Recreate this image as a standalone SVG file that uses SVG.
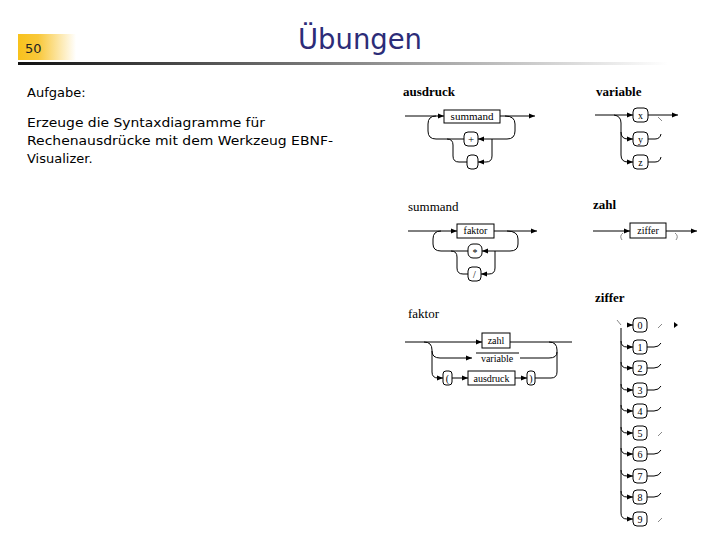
<svg xmlns="http://www.w3.org/2000/svg" width="720" height="540" viewBox="0 0 720 540">
<defs>
<linearGradient id="gy" x1="0" y1="0" x2="1" y2="0">
<stop offset="0" stop-color="#f8c21c"/><stop offset="0.35" stop-color="#f9c83a"/><stop offset="1" stop-color="#ffffff"/>
</linearGradient>
<linearGradient id="gl" x1="0" y1="0" x2="1" y2="0">
<stop offset="0" stop-color="#111"/><stop offset="0.45" stop-color="#777"/><stop offset="1" stop-color="#fff"/>
</linearGradient>
<marker id="ar" markerWidth="6" markerHeight="6" refX="6" refY="3" orient="auto" markerUnits="userSpaceOnUse">
<path d="M0,0.5 L6,3 L0,5.5 z" fill="#000"/>
</marker>
</defs>
<style>
.ln{fill:none;stroke:#000;stroke-width:1}
.a{marker-end:url(#ar)}
.tk{fill:none;stroke:#888;stroke-width:1}
.bx{fill:#fff;stroke:#000;stroke-width:1}
.t{font-family:"Liberation Serif",serif;font-size:11px;fill:#000;text-anchor:middle}
.ts{font-family:"Liberation Serif",serif;font-size:10px;fill:#000;text-anchor:middle}
.lb{font-family:"Liberation Serif",serif;font-size:13px;fill:#000}
.b{font-weight:bold}
.body{font-family:"DejaVu Sans",sans-serif;font-size:13px;fill:#000}
</style>
<rect width="720" height="540" fill="#fff"/>
<g id="header">
<rect x="18" y="34" width="58" height="26" fill="url(#gy)"/>
<text x="25" y="53" font-family="DejaVu Sans,sans-serif" font-size="13" fill="#222">50</text>
<rect x="18" y="62" width="650" height="3" fill="url(#gl)"/>
<text x="360" y="49" text-anchor="middle" font-family="DejaVu Sans,sans-serif" font-size="28" fill="#2c2c78" textLength="124" lengthAdjust="spacingAndGlyphs">Übungen</text>
</g>
<g id="task">
<text class="body" x="27" y="97">Aufgabe:</text>
<text class="body" x="27" y="127" textLength="238" lengthAdjust="spacingAndGlyphs">Erzeuge die Syntaxdiagramme für</text>
<text class="body" x="27" y="145" textLength="306" lengthAdjust="spacingAndGlyphs">Rechenausdrücke mit dem Werkzeug EBNF-</text>
<text class="body" x="27" y="163">Visualizer.</text>
</g>

<g id="ausdruck">
<text class="lb b" x="403" y="96">ausdruck</text>
<g id="ausdruck-connectors">
<path class="ln a" d="M405,116 H444"/>
<path class="ln a" d="M500,116 H535"/>
<path class="ln a" d="M505,116 Q515,116 515,124 V131 Q515,139 507,139 H478"/>
<path class="ln" d="M464,139 H436 Q428,139 428,131 V124 Q428,116 436,116"/>
<path class="ln a" d="M492,139 V156 Q492,162 486,162 H478"/>
<path class="ln" d="M467,162 H459 Q453,162 453,156 V145 Q453,139 447,139"/>
</g>
<g id="ausdruck-summand"><rect class="bx" x="444" y="110" width="56" height="13"/><text class="t" x="472" y="120">summand</text></g>
<g id="ausdruck-plus"><rect class="bx" x="464" y="132" width="14" height="14" rx="4"/><text class="t" x="471" y="143" font-size="13">+</text></g>
<g id="ausdruck-empty"><rect class="bx" x="467" y="155" width="11" height="14" rx="4"/></g>
</g>

<g id="variable">
<text class="lb b" x="596" y="96">variable</text>
<g id="variable-connectors">
<path class="ln a" d="M595,115 H633"/>
<path class="ln a" d="M648,115 H678"/>
<path class="ln" d="M614,115 Q621,116 621,123 V155 Q621,162 628,162"/>
<path class="ln a" d="M621,132 Q621,139 628,139 H633"/>
<path class="ln a" d="M627,162 H633"/>
<path class="ln" d="M648,139 H655 Q660,139 661,134"/>
<path class="ln" d="M648,162 H655 Q660,162 661,157"/>
<path class="tk" d="M658,117 L662,121"/>
</g>
<g id="variable-x"><rect class="bx" x="633" y="108" width="15" height="14" rx="4"/><text class="ts" x="640.5" y="119">x</text></g>
<g id="variable-y"><rect class="bx" x="633" y="132" width="15" height="14" rx="4"/><text class="ts" x="640.5" y="143">y</text></g>
<g id="variable-z"><rect class="bx" x="633" y="155" width="15" height="14" rx="4"/><text class="ts" x="640.5" y="166">z</text></g>
</g>

<g id="summand">
<text class="lb" x="408" y="211">summand</text>
<g id="summand-connectors">
<path class="ln a" d="M408,231 H457"/>
<path class="ln a" d="M494,231 H537"/>
<path class="ln a" d="M507,231 Q518,231 518,239 V244 Q518,251 510,251 H482"/>
<path class="ln" d="M468,251 H441 Q433,251 433,244 V239 Q433,231 441,231"/>
<path class="ln a" d="M495,251 V268 Q495,274 489,274 H481"/>
<path class="ln" d="M468,274 H463 Q457,274 457,268 V257 Q457,251 451,251"/>
</g>
<g id="summand-faktor"><rect class="bx" x="457" y="224" width="37" height="14"/><text class="ts" x="475.5" y="234">faktor</text></g>
<g id="summand-mul"><rect class="bx" x="468" y="244" width="14" height="14" rx="5"/><text class="ts" x="475" y="256">*</text></g>
<g id="summand-div"><rect class="bx" x="468" y="267" width="13" height="14" rx="4"/><text class="ts" x="474.5" y="278">/</text></g>
</g>

<g id="zahl">
<text class="lb b" x="593" y="209">zahl</text>
<g id="zahl-connectors">
<path class="ln a" d="M593,231 H630"/>
<path class="ln a" d="M666,231 H697"/>
<path class="tk" d="M623,233 Q619,236 622,240"/>
<path class="tk" d="M675,233 Q679,236 676,240"/>
</g>
<g id="zahl-ziffer"><rect class="bx" x="630" y="223" width="36" height="15"/><text class="ts" x="648" y="234">ziffer</text></g>
</g>

<g id="faktor">
<text class="lb" x="408" y="318">faktor</text>
<g id="faktor-connectors">
<path class="ln a" d="M405,342 H482"/>
<path class="ln" d="M510,342 H572"/>
<path class="ln a" d="M424,342 Q432,342 432,350 V372 Q432,378 438,378 H443"/>
<path class="ln a" d="M432,351 Q432,358 440,358 H472"/>
<path class="ln" d="M520,358 H549 Q557,358 557,352"/>
<path class="ln" d="M549,342 Q557,342 557,350 V372 Q557,378 551,378 H535"/>
<path class="ln a" d="M452,378 H468"/>
<path class="ln a" d="M515,378 H527"/>
<path class="ln" d="M476,353 H519"/>
</g>
<g id="faktor-zahl"><rect class="bx" x="482" y="333" width="28" height="15"/><text class="ts" x="496" y="344">zahl</text></g>
<g id="faktor-variable"><text class="ts" x="497" y="362">variable</text></g>
<g id="faktor-open"><rect class="bx" x="443" y="371" width="9" height="14" rx="3"/><text class="ts" x="447.5" y="382">(</text></g>
<g id="faktor-ausdruck"><rect class="bx" x="468" y="371" width="47" height="14"/><text class="ts" x="491.5" y="382">ausdruck</text></g>
<g id="faktor-close"><rect class="bx" x="527" y="371" width="8" height="14" rx="3"/><text class="ts" x="531" y="382">)</text></g>
</g>

<g id="ziffer">
<text class="lb b" x="595" y="302">ziffer</text>
<g id="ziffer-connectors">
<path class="tk" d="M617,320 L621,325"/>
<path class="ln" d="M621,328 V513 Q621,519 627,519"/>
<path class="ln a" d="M628,325 H633"/>
<path class="tk" d="M658,328 L662,324"/>
<path fill="#000" d="M674,322 L678,325 L674,328 z"/>
<path class="ln a" d="M621,341 Q621,347 627,347 H633"/>
<path class="ln a" d="M621,362 Q621,368 627,368 H633"/>
<path class="ln a" d="M621,384 Q621,390 627,390 H633"/>
<path class="ln a" d="M621,405 Q621,411 627,411 H633"/>
<path class="ln a" d="M621,427 Q621,433 627,433 H633"/>
<path class="ln a" d="M621,448 Q621,454 627,454 H633"/>
<path class="ln a" d="M621,470 Q621,476 627,476 H633"/>
<path class="ln a" d="M621,491 Q621,497 627,497 H633"/>
<path class="ln a" d="M627,519 H633"/>
<path class="ln" d="M647,347 H654 Q659,347 661,343"/>
<path class="ln" d="M647,368 H654 Q659,368 661,364"/>
<path class="ln" d="M647,390 H654 Q659,390 661,386"/>
<path class="ln" d="M647,411 H654 Q659,411 661,407"/>
<path class="tk" d="M658,436 L662,432"/>
<path class="ln" d="M647,454 H654 Q659,454 661,450"/>
<path class="ln" d="M647,476 H654 Q659,476 661,472"/>
<path class="ln" d="M647,497 H654 Q659,497 661,493"/>
<path class="tk" d="M658,522 L662,518"/>
</g>
<g id="ziffer-0"><rect class="bx" x="633" y="318" width="14" height="14" rx="4"/><text class="ts" x="640" y="329">0</text></g>
<g id="ziffer-1"><rect class="bx" x="633" y="340" width="14" height="14" rx="4"/><text class="ts" x="640" y="351">1</text></g>
<g id="ziffer-2"><rect class="bx" x="633" y="361" width="14" height="14" rx="4"/><text class="ts" x="640" y="372">2</text></g>
<g id="ziffer-3"><rect class="bx" x="633" y="383" width="14" height="14" rx="4"/><text class="ts" x="640" y="394">3</text></g>
<g id="ziffer-4"><rect class="bx" x="633" y="404" width="14" height="14" rx="4"/><text class="ts" x="640" y="415">4</text></g>
<g id="ziffer-5"><rect class="bx" x="633" y="426" width="14" height="14" rx="4"/><text class="ts" x="640" y="437">5</text></g>
<g id="ziffer-6"><rect class="bx" x="633" y="447" width="14" height="14" rx="4"/><text class="ts" x="640" y="458">6</text></g>
<g id="ziffer-7"><rect class="bx" x="633" y="469" width="14" height="14" rx="4"/><text class="ts" x="640" y="480">7</text></g>
<g id="ziffer-8"><rect class="bx" x="633" y="490" width="14" height="14" rx="4"/><text class="ts" x="640" y="501">8</text></g>
<g id="ziffer-9"><rect class="bx" x="633" y="512" width="14" height="14" rx="4"/><text class="ts" x="640" y="523">9</text></g>
</g>
</svg>
